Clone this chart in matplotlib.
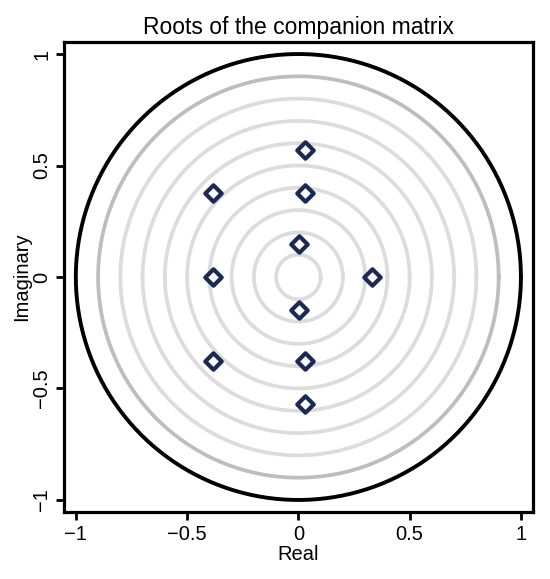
import matplotlib
matplotlib.use("Agg")
import matplotlib.pyplot as plt
import numpy as np

plt.rcParams['font.family'] = ['Liberation Sans', 'DejaVu Sans']

# Data
real_parts = [0.03, 0.03, -0.385, -0.385, -0.385, 0.33, 0.03, 0.03, 0.005, 0.005]
imag_parts = [0.57, -0.57, 0.375, -0.375, 0.0, 0.0, 0.375, -0.375, 0.15, -0.15]
light_radii = [0.1, 0.2, 0.3, 0.4, 0.5, 0.6, 0.7, 0.8]
mid_radius = 0.9
unit_radius = 1.0
ticks = [-1, -0.5, 0, 0.5, 1]
tick_labels = ['\u22121', '\u22120.5', '0', '0.5', '1']

fig = plt.figure(figsize=(5.5, 5.79), dpi=100)
ax = fig.add_axes([0.116, 0.1157, 0.853, 0.8118])

theta = np.linspace(0, 2 * np.pi, 500)
for r in light_radii:
    ax.plot(r * np.cos(theta), r * np.sin(theta), color='#dcdcdc', lw=2.7, zorder=1)
ax.plot(mid_radius * np.cos(theta), mid_radius * np.sin(theta), color='#bdbdbd', lw=2.7, zorder=1)
ax.plot(unit_radius * np.cos(theta), unit_radius * np.sin(theta), color='black', lw=2.8, zorder=2)

ax.scatter(real_parts, imag_parts, marker='D', s=70, facecolor='white',
           edgecolor='#1a2a55', linewidth=3.0, zorder=3)

ax.set_xlim(-1.054, 1.054)
ax.set_ylim(-1.054, 1.054)
ax.set_xticks(ticks)
ax.set_xticklabels(tick_labels, fontsize=14.5)
ax.set_yticks(ticks)
ax.set_yticklabels(tick_labels, fontsize=14.5, rotation=90, va='center')
ax.tick_params(length=6, width=2, direction='out', pad=3)
for s in ax.spines.values():
    s.set_linewidth(2.3)
ax.set_xlabel('Real', fontsize=14.5, labelpad=1)
ax.set_ylabel('Imaginary', fontsize=14.5, labelpad=1)
ax.set_title('Roots of the companion matrix', fontsize=16.5, pad=6)

fig.savefig('out.png', dpi=100)
